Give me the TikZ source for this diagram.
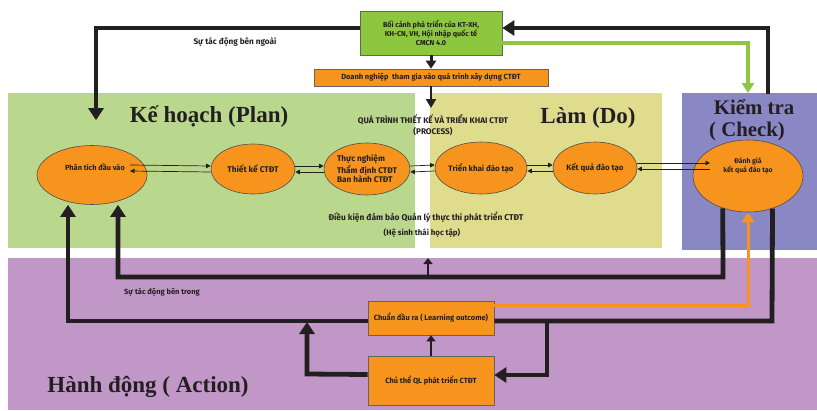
\documentclass[tikz,border=0pt]{standalone}
\usepackage{fontspec}
\setmainfont{Fira Sans}
\newfontfamily\titlefont{Liberation Serif}
\usetikzlibrary{shapes.geometric,arrows.meta,calc}
\definecolor{plang}{RGB}{185,216,141}
\definecolor{doy}{RGB}{224,220,142}
\definecolor{chkb}{RGB}{137,135,196}
\definecolor{actp}{RGB}{192,151,198}
\definecolor{orng}{RGB}{247,148,29}
\definecolor{gbox}{RGB}{141,198,63}
\definecolor{ink}{RGB}{35,31,32}
\tikzset{
  lab/.style={font=\bfseries\fontsize{7.5}{9}\selectfont, text=ink, align=center, inner sep=0pt},
  oval/.style={ellipse, draw=ink!80, line width=0.6pt, fill=orng, lab},
  obox/.style={rectangle, draw=ink!70, line width=0.6pt, fill=orng, lab},
  title/.style={font=\titlefont\bfseries\fontsize{23}{24}\selectfont, text=ink, inner sep=0pt},
  thickarr/.style={draw=ink, line width=4.8pt, -{Triangle[length=12pt,width=15pt]}},
  thickln/.style={draw=ink, line width=4.8pt},
  medarr/.style={draw=ink, line width=2pt, -{Triangle[length=6pt,width=9pt]}},
  thinarr/.style={draw=ink, line width=0.7pt, -{Triangle[length=4.5pt,width=4.5pt]}},
}
\begin{document}
\begin{tikzpicture}[x=1pt,y=-1pt]
\useasboundingbox (0,0) rectangle (817,410);
\fill[white] (0,0) rectangle (817,410);
% regions
\fill[plang] (8,93) rectangle (415,248);
\fill[doy] (430,93) rectangle (662,248);
\fill[chkb] (682,93) rectangle (817,250);
\fill[actp] (8,258) rectangle (817,410);

% titles
\node[title] (tplan) at (209,117) {Kế hoạch (Plan)};
\node[title] (tdo) at (588,118) {Làm (Do)};
\node[title,font=\titlefont\bfseries\fontsize{20.8}{21}\selectfont] (tchk1) at (754,107) {Kiểm tra};
\node[title,font=\titlefont\bfseries\fontsize{20.8}{21}\selectfont] (tchk2) at (747,131) {( Check)};
\node[title] (tact) at (148,387) {Hành động ( Action)};

% boxes
\node[rectangle, draw=ink!70, line width=0.6pt, fill=gbox, lab, font=\bfseries\fontsize{7.2}{9.2}\selectfont, minimum width=142pt, minimum height=44pt] (top) at (431,33)
  {Bối cảnh phá triển của KT-XH,\\KH-CN, VH, Hội nhập quốc tế\\CMCN 4.0};
\node[obox, minimum width=234pt, minimum height=17pt] (dn) at (431,77.5) {Doanh nghiệp\ \ tham gia vào quá trình xây dựng CTĐT};
\node[obox, minimum width=126pt, minimum height=34pt] (cdr) at (431,318) {Chuẩn đầu ra ( Learning outcome)};
\node[obox, minimum width=126pt, minimum height=49pt] (cth) at (431,380.5) {Chủ thể QL phát triển CTĐT};

% ellipses
\node[oval, minimum width=110pt, minimum height=59pt] (e1) at (92,175) {};
\node[lab, font=\bfseries\fontsize{7.4}{9}\selectfont] at (95,167) {Phân tích đầu vào};
\node[oval, minimum width=84pt, minimum height=50pt, font=\bfseries\fontsize{8.3}{9}\selectfont] (e2) at (253,169) {Thiết kế CTĐT};
\node[oval, minimum width=86pt, minimum height=52pt, inner sep=0pt, align=left, font=\bfseries\fontsize{8.2}{9.6}\selectfont] (e3) at (367,169) {Thực nghiệm\\Thẩm định CTĐT\\Ban hành CTĐT};
\node[oval, minimum width=84pt, minimum height=52pt, font=\bfseries\fontsize{7.9}{9}\selectfont] (e4) at (481,168) {Triển khai đào tạo};
\node[oval, minimum width=84pt, minimum height=52pt, font=\bfseries\fontsize{7.9}{9}\selectfont] (e5) at (595,168) {Kết quả đào tạo};
\node[oval, minimum width=110pt, minimum height=72pt] (e6) at (748,176) {};
\node[lab, font=\bfseries\fontsize{6.9}{9}\selectfont] at (748,166) {Đánh giá\\kết quả đào tạo};

% free texts
\node[lab, font=\bfseries\fontsize{8.2}{9}\selectfont] (outer) at (235,42) {Sự tác động bên ngoài};
\node[lab, font=\bfseries\fontsize{8.2}{10.5}\selectfont] (proc) at (433,125) {QUÁ TRÌNH THIẾT KẾ VÀ TRIỂN KHAI CTĐT\\(PROCESS)};
\node[lab, font=\bfseries\fontsize{8.4}{9}\selectfont] (cond) at (426,217) {Điều kiện đảm bảo Quản lý thực thi phát triển CTĐT};
\node[lab, font=\bfseries\fontsize{7.9}{9}\selectfont] (eco) at (422,233) {(Hệ sinh thái học tập)};
\node[lab, font=\bfseries\fontsize{7.5}{9}\selectfont] (inner) at (162,292) {Sự tác động bên trong};

% coordinates for free ends
\coordinate (extin) at ($(e1.north)+(4,-25)$);
\coordinate (chktop) at (768,94);
\coordinate (chkg) at (748,93);
\coordinate (procin) at (431,108);
\coordinate (ecoin) at (428,258);

% top connectors
\draw[thickarr] ([yshift=5pt]top.west) -- (96,28) -- (extin);
\draw[thickarr] (chktop) -- (768,28) -- ([yshift=5pt]top.east);
\draw[draw=gbox, line width=3.5pt, -{Triangle[length=10pt,width=12pt]}] ([yshift=-10pt]top.east) -- (748,43) -- (chkg);
\draw[thickarr, line width=3pt, -{Triangle[length=8pt,width=10pt]}] (top.south) -- (dn.north);
\draw[thickarr, line width=2.5pt, -{Triangle[length=9pt,width=10pt]}] (dn.south) -- (procin);

% double thin arrows
\draw[thinarr] (130,165) -- ([yshift=3pt]e2.west);
\draw[thinarr] ([yshift=-3pt]e2.west) -- (130,171);
\draw[thinarr] ([yshift=3pt]e2.east) -- ([yshift=3pt]e3.west);
\draw[thinarr] ([yshift=-3pt]e3.west) -- ([yshift=-3pt]e2.east);
\draw[thinarr] ([yshift=3pt]e3.east) -- ([yshift=3pt]e4.west);
\draw[thinarr] ([yshift=-3pt]e4.west) -- ([yshift=-3pt]e3.east);
\draw[thinarr] ([yshift=3pt]e4.east) -- ([yshift=3pt]e5.west);
\draw[thinarr] ([yshift=-3pt]e5.west) -- ([yshift=-3pt]e4.east);
\draw[thinarr] ([yshift=5pt]e5.east) -- (710,163);
\draw[thinarr] (710,169) -- ([yshift=-1pt]e5.east);

% bottom connectors
\draw[thickarr] ([yshift=-3pt]cdr.west) -- (68,321) -- (e1.south -| 68,0);
\draw[thickarr] (e6.232) -- (723,277) -- (118,277) -- (e1.south -| 118,0);
\draw[medarr] (428,277) -- (ecoin);
\draw[thickarr] ([yshift=6pt]cth.west) -- (307,374) -- (307,322);
\draw[medarr] (cth.north) -- (cdr.south);
\draw[thickln] ([yshift=-3pt]cdr.east) -- (772,321) -- (e6.307);
\draw[thickarr] (547,321) -- (547,375) -- ([yshift=5.5pt]cth.east);
\draw[draw=orng, line width=3pt, -{Triangle[length=10pt,width=12pt]}] ([yshift=13pt]cdr.east) -- (748,305) -- (e6.south);
\end{tikzpicture}
\end{document}
